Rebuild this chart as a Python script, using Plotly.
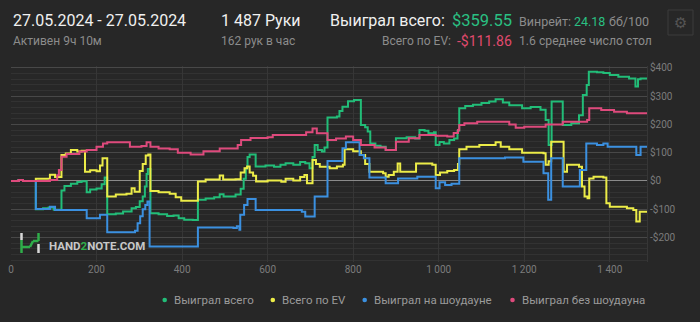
import plotly.graph_objects as go

# ---------------- data ----------------
green_hands = [0, 18, 28, 58, 75, 88, 100, 118, 125, 140, 155, 165, 177, 185, 200, 212, 219, 225, 245, 262, 282, 292, 301, 308, 313, 317, 320, 326, 345, 365, 380, 392, 405, 425, 437, 455, 475, 488, 497, 525, 537, 544, 549, 553, 558, 572, 595, 615, 630, 642, 660, 676, 688, 698, 705, 710, 717, 727, 733, 740, 762, 768, 775, 788, 802, 818, 828, 834, 840, 852, 864, 876, 900, 925, 945, 955, 967, 976, 989, 993, 1002, 1012, 1025, 1036, 1044, 1048, 1062, 1080, 1100, 1118, 1133, 1150, 1165, 1195, 1215, 1238, 1250, 1257, 1264, 1290, 1310, 1328, 1337, 1346, 1351, 1370, 1385, 1400, 1420, 1445, 1460, 1466, 1472, 1487]
green_values = [0, 3, 0, -100, -97, -94, -102, -34, -18, -10, -4, -1, -40, -30, -27, -12, 12, -118, -115, -108, -97, -92, -72, -55, -20, 25, 42, -114, -118, -124, -122, -132, -137, -138, -67, -62, -58, -47, -55, -48, -28, 8, 45, 85, 94, 51, 55, 50, 57, 63, 57, 67, 63, 45, 85, 127, 110, 104, 118, 225, 228, 248, 263, 282, 287, 198, 190, 175, 133, 125, 121, 110, 151, 155, 150, 180, 178, 169, 172, 127, 138, 133, 145, 150, 178, 257, 265, 270, 276, 281, 289, 278, 268, 257, 262, 252, 216, 127, 281, 198, 204, 233, 304, 340, 387, 385, 382, 375, 369, 363, 334, 360, 363, 360]

yellow_hands = [0, 18, 28, 58, 91, 103, 118, 128, 140, 155, 165, 173, 185, 200, 208, 214, 225, 245, 270, 282, 289, 301, 308, 315, 321, 326, 345, 371, 385, 398, 437, 455, 488, 496, 525, 537, 546, 552, 558, 566, 573, 600, 632, 642, 660, 676, 686, 692, 705, 713, 722, 745, 762, 776, 780, 800, 818, 828, 838, 870, 876, 883, 895, 904, 910, 947, 985, 993, 1003, 1020, 1036, 1045, 1048, 1065, 1095, 1133, 1145, 1165, 1195, 1245, 1250, 1257, 1263, 1292, 1300, 1328, 1335, 1341, 1348, 1352, 1362, 1385, 1392, 1400, 1440, 1455, 1462, 1470, 1487]
yellow_values = [0, 3, 0, 8, 22, 14, 92, 97, 110, 104, 107, 33, 38, 34, 55, 80, -55, -48, -45, -26, -38, 35, 60, 90, 94, -36, -40, -45, -58, -70, -2, 5, 19, 5, 6, 30, 45, 51, 30, 18, -2, 2, -3, 8, 2, 14, 21, -8, 74, 60, 50, 45, 51, 57, 112, 105, 92, 60, 33, 27, 15, 21, 33, 62, 33, 62, 57, 21, 30, 35, 39, 60, 112, 121, 127, 137, 121, 112, 100, 98, 57, 70, 139, 33, 57, 50, -20, -55, -61, 9, 15, 12, -79, -91, -97, -103, -144, -109, -109]

blue_hands = [0, 18, 28, 58, 91, 103, 177, 208, 225, 290, 296, 302, 308, 314, 319, 324, 437, 520, 528, 534, 536, 545, 553, 572, 680, 688, 710, 740, 775, 783, 815, 825, 838, 876, 905, 950, 993, 1002, 1015, 1030, 1048, 1133, 1155, 1198, 1245, 1256, 1263, 1290, 1330, 1345, 1370, 1385, 1395, 1458, 1462, 1472, 1487]
blue_values = [0, 3, 0, -99, -91, -103, -132, -120, -182, -176, -150, -125, -100, -85, -73, -232, -165, -167, -160, -173, -120, -85, -64, -103, -109, -126, -55, 71, 116, 137, 92, 80, 12, -8, 9, 15, -26, -5, -14, -10, 80, 80, 83, 68, 27, -67, 80, -20, 39, 133, 127, 133, 121, 121, 92, 121, 121]

pink_hands = [0, 18, 28, 58, 91, 108, 112, 118, 130, 160, 177, 200, 215, 225, 278, 305, 317, 326, 345, 371, 390, 420, 450, 488, 530, 538, 560, 600, 612, 660, 690, 705, 715, 740, 760, 783, 800, 818, 850, 876, 900, 930, 955, 993, 1020, 1035, 1045, 1048, 1060, 1090, 1150, 1165, 1180, 1200, 1250, 1290, 1347, 1352, 1380, 1410, 1440, 1487]
pink_values = [0, 3, 0, 0, 3, 20, 39, 86, 95, 104, 110, 121, 133, 137, 121, 124, 137, 121, 115, 112, 100, 94, 105, 115, 127, 145, 152, 155, 163, 163, 172, 186, 169, 145, 150, 157, 145, 127, 118, 110, 139, 151, 163, 160, 157, 170, 180, 198, 204, 210, 210, 200, 188, 192, 200, 210, 216, 257, 251, 245, 240, 238]

series_names = ["Выиграл всего", "Всего по EV", "Выиграл на шоудауне", "Выиграл без шоудауна"]
series_colors = ["#22bd78", "#ecec48", "#3b90e0", "#de4a7c"]

x_tickvals = [0, 200, 400, 600, 800, 1000, 1200, 1400]
x_ticktext = ["0", "200", "400", "600", "800", "1 000", "1 200", "1 400"]
y_tickvals = [-200, -100, 0, 100, 200, 300, 400]
y_ticktext = ["-$200", "-$100", "$0", "$100", "$200", "$300", "$400"]

# ---------------- geometry helpers (pixel -> paper) ----------------
W_PX, H_PX = 700, 322
L, R, T, B = 11, 647, 66, 262


def px(x):
    return (x - L) / (R - L)


def py(y):
    return (B - y) / (B - T)


BG = "#272727"
FONT = "Roboto"

fig = go.Figure()
all_series = [
    (green_hands, green_values),
    (yellow_hands, yellow_values),
    (blue_hands, blue_values),
    (pink_hands, pink_values),
]
for (hx, vy), name, col in zip(all_series, series_names, series_colors):
    fig.add_trace(go.Scatter(x=hx, y=vy, mode="lines", name=name,
                             line=dict(color=col, width=2, shape="hv"),
                             showlegend=False, hoverinfo="skip"))

fig.update_layout(
    width=W_PX, height=H_PX,
    paper_bgcolor=BG, plot_bgcolor=BG,
    margin=dict(l=L, r=W_PX - R, t=T, b=H_PX - B, pad=0),
    showlegend=False,
    font=dict(family=FONT, color="#8a8a8a", size=10),
)
fig.update_xaxes(
    range=[0, 1487], tickmode="array", tickvals=x_tickvals, ticktext=x_ticktext,
    showgrid=True, gridcolor="#363636", gridwidth=1, zeroline=False,
    showline=False, ticks="", tickfont=dict(size=10, color="#7c7c7c"),
    automargin=False,
)
fig.update_yaxes(
    range=[-287, 407], side="right", tickmode="array", tickvals=y_tickvals, ticktext=y_ticktext,
    showgrid=True, gridcolor="#484848", gridwidth=1,
    minor=dict(tickmode="linear", tick0=0, dtick=20, showgrid=True, gridcolor="#323232", gridwidth=1),
    zeroline=True, zerolinecolor="#8a8a8a", zerolinewidth=1,
    showline=True, linecolor="#363636", linewidth=1, mirror=False,
    ticks="", tickfont=dict(size=10, color="#7c7c7c"), automargin=False,
)

ann = []


def text(x, y, s, size, color, anchor="left", bold=False):
    ann.append(dict(xref="paper", yref="paper", x=px(x), y=py(y), text=("<b>%s</b>" % s) if bold else s,
                    showarrow=False, xanchor=anchor, yanchor="middle",
                    font=dict(family=FONT, size=size, color=color)))


WHITE = "#f0f0f0"
GRAY = "#8c8c8c"
GREEN = "#2ac083"
RED = "#e04a6e"

text(11, 20, "27.05.2024 - 27.05.2024", 16, WHITE)
text(11, 41, "Активен 9ч 10м", 12, GRAY)
text(219, 20, "1 487 Руки", 16, WHITE)
text(219, 41, "162 рук в час", 12, GRAY)
text(447, 20, "Выиграл всего:", 16, WHITE, anchor="right")
text(450, 20, "$359.55", 16.5, GREEN)
text(517, 21, "Винрейт:", 12.5, GRAY)
text(572, 21, "24.18", 12.5, GREEN)
text(607, 21, "бб/100", 12.5, GRAY)
text(453, 41, "Всего по EV:", 12, GRAY, anchor="right")
text(455, 41, "-$111.86", 14, RED)
text(517, 41, "1.6 среднее число стол", 12.2, GRAY)

# watermark
ann.append(dict(xref="paper", yref="paper", x=px(47), y=py(246),
                text="<b>HAND<span style='color:#2fae4a'>2</span>NOTE.COM</b>",
                showarrow=False, xanchor="left", yanchor="middle",
                font=dict(family=FONT, size=11.5, color="#c8c8c8")))

# legend (manual)
legend_pos = [(164.7, 171.5), (272.8, 280.0), (364.7, 372.0), (512.5, 519.5)]
LEG_Y = 300
shapes = []
for (dx, tx), name, col in zip(legend_pos, series_names, series_colors):
    shapes.append(dict(type="circle", xref="paper", yref="paper",
                       x0=px(dx - 2.3), x1=px(dx + 2.3), y0=py(LEG_Y + 2.3), y1=py(LEG_Y - 2.3),
                       fillcolor=col, line=dict(width=0)))
    text(tx, LEG_Y, name, 11.5, "#9a9a9a")

# gear box
shapes.append(dict(type="rect", xref="paper", yref="paper", x0=px(668), x1=px(693), y0=py(35), y1=py(10),
                   line=dict(color="#3c3c3c", width=1), fillcolor="rgba(0,0,0,0)"))
ann.append(dict(xref="paper", yref="paper", x=px(680.5), y=py(22.5), text="⚙", showarrow=False,
                xanchor="center", yanchor="middle", font=dict(family="DejaVu Sans", size=15, color="#555555")))

# logo (H2N)
LG = "#2fae4a"
LW = "#d8d8d8"
logo = [
    (21.5, 233, 21.5, 240, LW),
    (21.5, 240, 21.5, 253, LG),
    (38.5, 233, 38.5, 241, LG),
    (38.5, 244, 38.5, 253, LW),
    (21.5, 247, 30, 247, LG),
    (30, 247, 33, 241, LG),
    (33, 241, 38.5, 241, LG),
]
for x0, y0, x1, y1, c in logo:
    shapes.append(dict(type="line", xref="paper", yref="paper", x0=px(x0), y0=py(y0), x1=px(x1), y1=py(y1),
                       line=dict(color=c, width=2.5)))

fig.update_layout(annotations=ann, shapes=shapes)
fig.write_html("out.html", config={"displayModeBar": False})
